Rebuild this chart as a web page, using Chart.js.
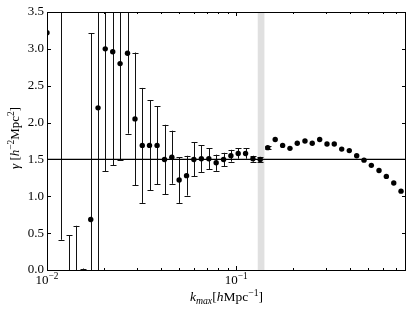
<!DOCTYPE html>
<html>
<head>
<meta charset="utf-8">
<script src="https://cdn.jsdelivr.net/npm/chart.js@4.4.1/dist/chart.umd.min.js"></script>
<style>
  html, body { margin: 0; padding: 0; background: #fff; }
</style>
</head>
<body>
<canvas id="myChart" width="413" height="312"></canvas>
<script>
// data
var kmax = [0.01, 0.01181, 0.01302, 0.01419, 0.01554, 0.01703, 0.01861, 0.02032, 0.02226, 0.02434,
            0.02664, 0.02918, 0.03189, 0.03482, 0.03819, 0.04180, 0.04569, 0.04994, 0.05466, 0.05975,
            0.06545, 0.07170, 0.07839, 0.08577, 0.09376, 0.1025, 0.1121, 0.1226, 0.1340, 0.1468,
            0.1608, 0.1760, 0.1924, 0.2103, 0.2310, 0.2524, 0.2763, 0.3020, 0.3300, 0.3612,
            0.3962, 0.4335, 0.4739, 0.5181, 0.5689, 0.6219, 0.6806, 0.7436];
var gamma = [3.22, 4.0, -0.5, -0.5, -0.3, 0.685, 2.20, 3.00, 2.96, 2.80,
             2.94, 2.05, 1.69, 1.69, 1.69, 1.50, 1.53, 1.22, 1.28, 1.50,
             1.51, 1.51, 1.455, 1.50, 1.55, 1.58, 1.58, 1.51, 1.50, 1.66,
             1.77, 1.69, 1.65, 1.72, 1.75, 1.72, 1.77, 1.71, 1.71, 1.64,
             1.62, 1.55, 1.49, 1.42, 1.35, 1.27, 1.18, 1.07];
var gammaErr = [0, 3.59, 0.97, 1.10, 0.32, 2.53, 2.60, 1.66, 1.54, 1.31,
                1.09, 0.90, 0.78, 0.61, 0.53, 0.47, 0.36, 0.31, 0.27, 0.23,
                0.18, 0.14, 0.11, 0.09, 0.08, 0.07, 0.07, 0.04, 0.03, 0.02,
                0, 0, 0, 0, 0, 0, 0, 0, 0, 0,
                0, 0, 0, 0, 0, 0, 0, 0];
var refGamma = 1.5;
var bandLo = 0.13, bandHi = 0.141;
var xMin = 0.01, xMax = 0.79;
var yMin = 0, yMax = 3.5;
var xLabelTicks = [0.01, 0.1];
var xLabelExp = ["\u22122", "\u22121"];

var FONT = '"Liberation Serif", "DejaVu Serif", serif';

var pts = [];
for (var i = 0; i < kmax.length; i++) pts.push({x: kmax[i], y: gamma[i]});

// text with super/subscripts
function drawRich(ctx, parts, x, y, size, align) {
  var w = 0;
  function fontFor(p) {
    var s = (p.sup || p.sub) ? size * 0.72 : size;
    return (p.italic ? 'italic ' : '') + s + 'px ' + FONT;
  }
  parts.forEach(function(p) { ctx.font = fontFor(p); p.w = ctx.measureText(p.t).width; w += p.w; });
  var cx = align == 'center' ? x - w / 2 : x;
  ctx.textAlign = 'left';
  ctx.textBaseline = 'alphabetic';
  parts.forEach(function(p) {
    ctx.font = fontFor(p);
    var dy = p.sup ? -size * 0.4 : (p.sub ? size * 0.22 : 0);
    ctx.fillText(p.t, cx, y + dy);
    cx += p.w;
  });
}

var decor = {
  id: 'decor',
  beforeDatasetsDraw: function(chart) {
    var ctx = chart.ctx, a = chart.chartArea;
    var xs = chart.scales.x, ys = chart.scales.y;
    ctx.save();
    ctx.beginPath();
    ctx.rect(a.left, a.top, a.right - a.left, a.bottom - a.top);
    ctx.clip();
    // shaded band
    ctx.fillStyle = '#e0e0e0';
    var b0 = xs.getPixelForValue(bandLo), b1 = xs.getPixelForValue(bandHi);
    ctx.fillRect(b0, a.top, b1 - b0, a.bottom - a.top);
    // error bars
    ctx.strokeStyle = '#111';
    ctx.lineWidth = 1;
    for (var i = 0; i < kmax.length; i++) {
      if (!gammaErr[i]) continue;
      var px = Math.round(xs.getPixelForValue(kmax[i])) + 0.5;
      var hi = ys.getPixelForValue(gamma[i] + gammaErr[i]);
      var lo = ys.getPixelForValue(gamma[i] - gammaErr[i]);
      ctx.beginPath();
      ctx.moveTo(px, hi); ctx.lineTo(px, lo);
      ctx.moveTo(px - 3, Math.round(hi) + 0.5); ctx.lineTo(px + 3, Math.round(hi) + 0.5);
      ctx.moveTo(px - 3, Math.round(lo) + 0.5); ctx.lineTo(px + 3, Math.round(lo) + 0.5);
      ctx.stroke();
    }
    ctx.restore();
  },
  afterDraw: function(chart) {
    var ctx = chart.ctx, a = chart.chartArea;
    var xs = chart.scales.x, ys = chart.scales.y;
    ctx.save();
    ctx.strokeStyle = '#000';
    ctx.lineWidth = 1;
    ctx.strokeRect(a.left + 0.5, a.top + 0.5, a.right - a.left - 1, a.bottom - a.top);
    // inward ticks
    ctx.beginPath();
    for (var d = 0.01; d < 1; d *= 10) {
      for (var m = 1; m < 10; m++) {
        var v = m * d;
        if (v < xMin * 0.999 || v > xMax) continue;
        var px = Math.round(xs.getPixelForValue(v)) + 0.5;
        var len = m == 1 ? 4 : 2;
        ctx.moveTo(px, a.bottom); ctx.lineTo(px, a.bottom - len);
        ctx.moveTo(px, a.top); ctx.lineTo(px, a.top + len);
      }
    }
    ys.ticks.forEach(function(t) {
      var py = Math.round(ys.getPixelForValue(t.value)) + 0.5;
      ctx.moveTo(a.left, py); ctx.lineTo(a.left + 4, py);
      ctx.moveTo(a.right, py); ctx.lineTo(a.right - 4, py);
    });
    ctx.stroke();
    // x tick labels
    ctx.fillStyle = '#000';
    xLabelTicks.forEach(function(v, j) {
      drawRich(ctx, [{t: '10'}, {t: xLabelExp[j], sup: true}], xs.getPixelForValue(v), 284, 13, 'center');
    });
    // axis titles
    drawRich(ctx, [{t: 'k', italic: true}, {t: 'max', italic: true, sub: true}, {t: '['}, {t: 'h', italic: true},
                   {t: 'Mpc'}, {t: '\u22121', sup: true}, {t: ']'}], (a.left + a.right) / 2, 301, 13.5, 'center');
    ctx.translate(19, (a.top + a.bottom) / 2 - 3);
    ctx.rotate(-Math.PI / 2);
    drawRich(ctx, [{t: '\u03b3', italic: true}, {t: ' ['}, {t: 'h', italic: true}, {t: '\u22122', sup: true},
                   {t: 'Mpc'}, {t: '2', sup: true}, {t: ']'}], 0, 0, 13, 'center');
    ctx.restore();
  }
};

var ctx = document.getElementById('myChart').getContext('2d');
var myChart = new Chart(ctx, {
  data: {
    datasets: [{
      type: 'line',
      data: [{x: xMin, y: refGamma}, {x: xMax, y: refGamma}],
      borderColor: '#000',
      borderWidth: 1.3,
      pointRadius: 0,
      clip: 0
    }, {
      type: 'scatter',
      data: pts,
      backgroundColor: '#000',
      borderWidth: 0,
      pointRadius: 2.7,
      clip: 0
    }]
  },
  options: {
    responsive: false,
    animation: false,
    layout: { padding: { left: 0, right: 7, top: 12, bottom: 0 } },
    plugins: { legend: { display: false }, tooltip: { enabled: false } },
    scales: {
      x: {
        type: 'logarithmic',
        min: xMin, max: xMax,
        grid: { display: false, drawTicks: false },
        border: { display: false },
        ticks: { display: false },
        afterFit: function(s) { s.height = 42; }
      },
      y: {
        type: 'linear',
        min: yMin, max: yMax,
        grid: { display: false, drawTicks: false },
        border: { display: false },
        ticks: {
          stepSize: 0.5,
          padding: 3,
          color: '#000',
          font: { family: FONT, size: 13 },
          callback: function(v) { return v.toFixed(1); }
        },
        afterFit: function(s) { s.width = 47; }
      }
    }
  },
  plugins: [decor]
});
</script>
</body>
</html>
